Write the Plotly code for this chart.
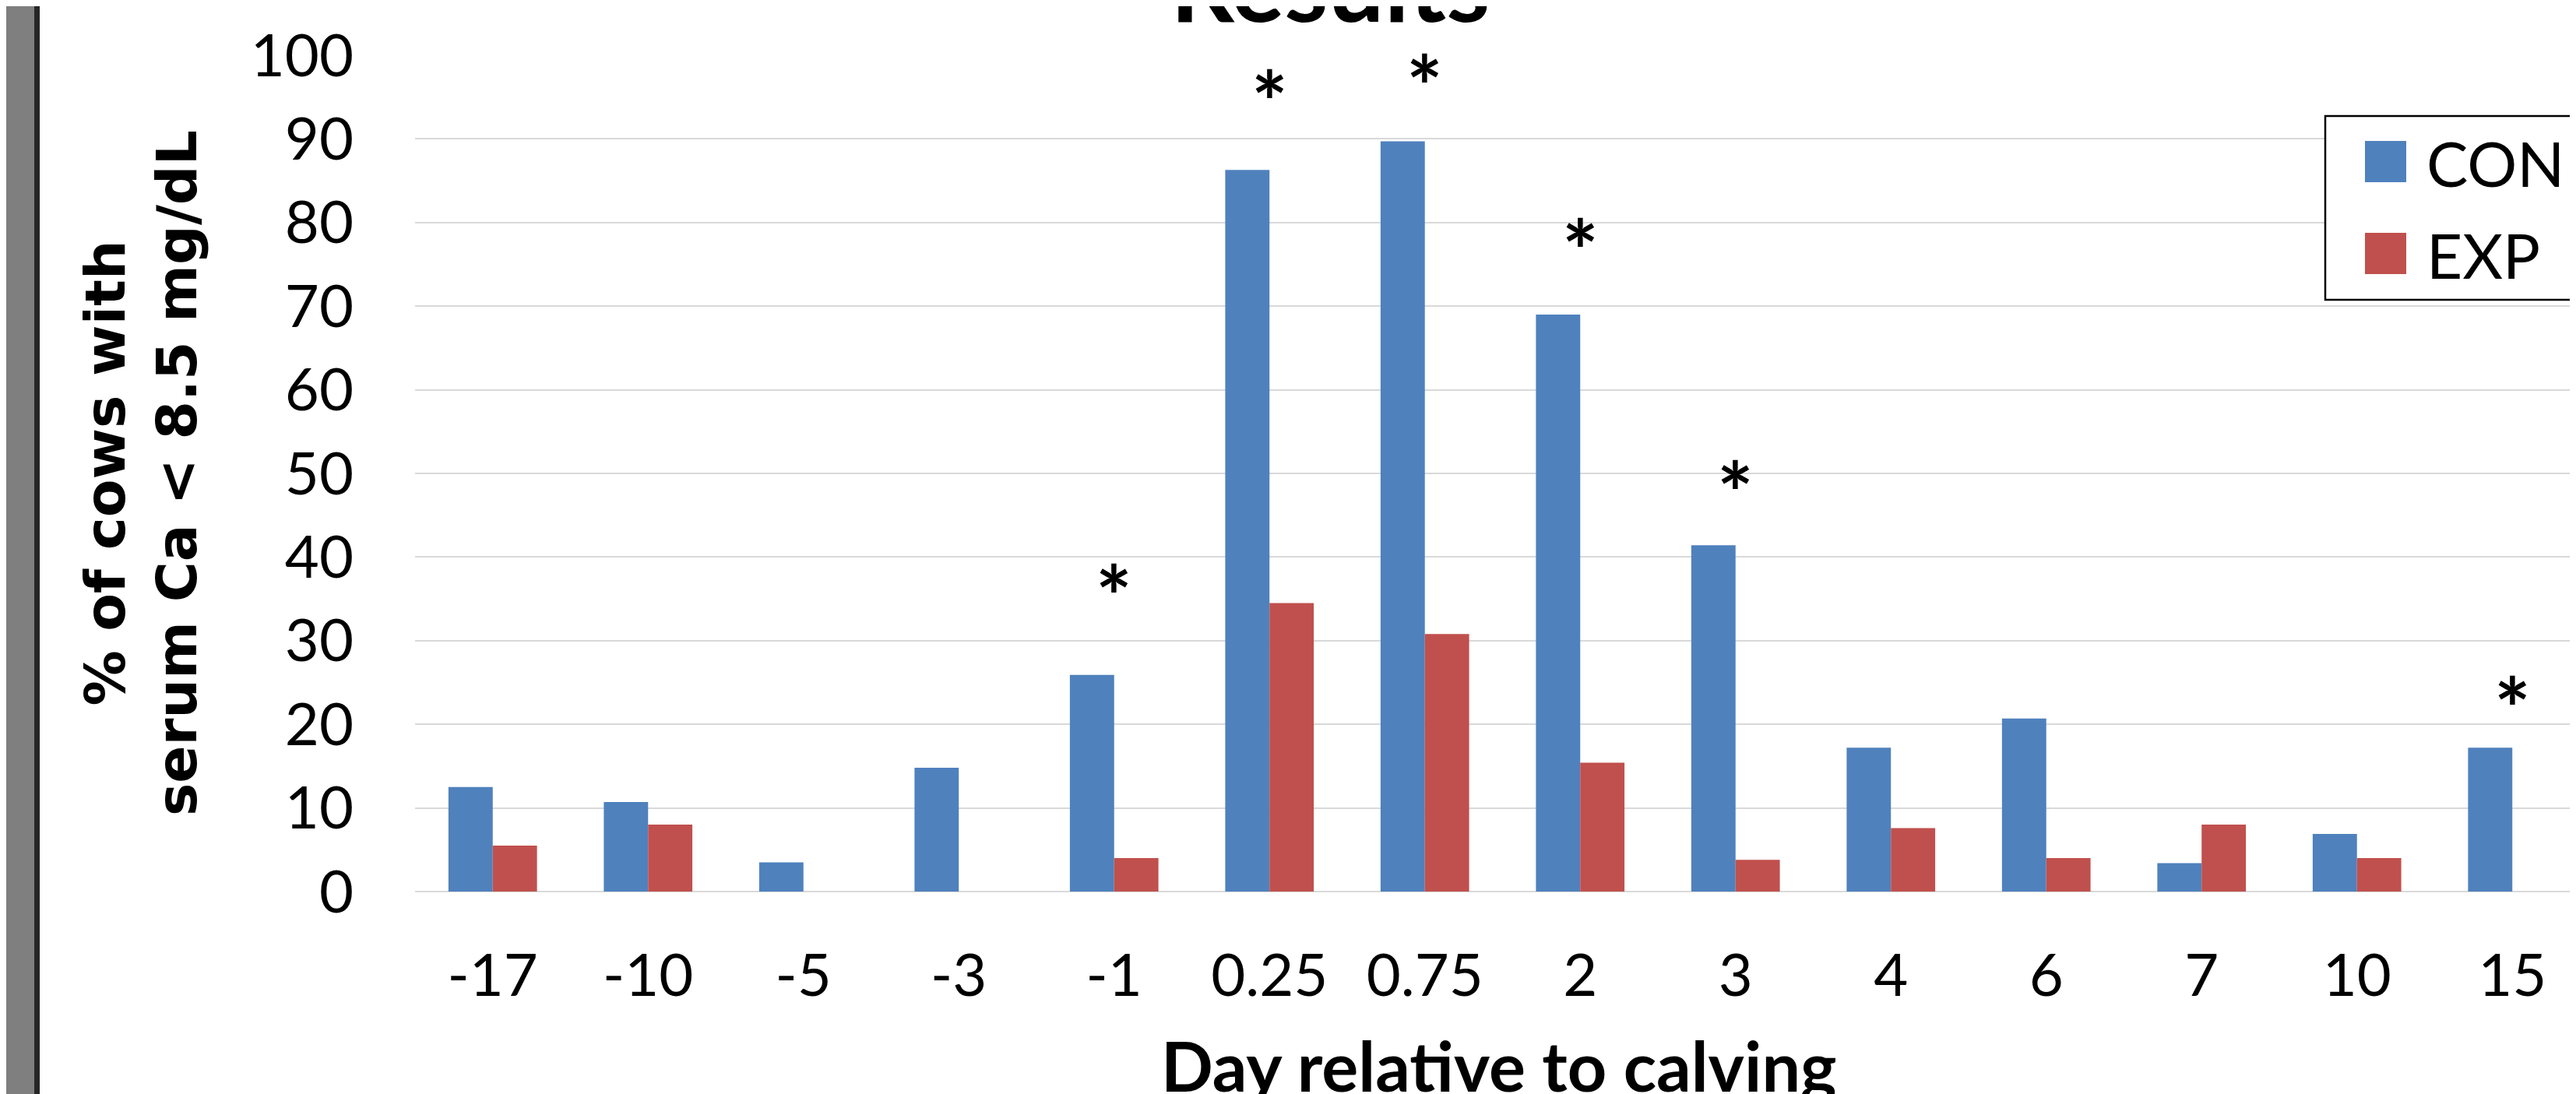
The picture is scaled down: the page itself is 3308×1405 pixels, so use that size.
import plotly.graph_objects as go

# ---- data ----
days = ["-17", "-10", "-5", "-3", "-1", "0.25", "0.75", "2", "3", "4", "6", "7", "10", "15"]
con_pct = [12.5, 10.7, 3.5, 14.8, 25.9, 86.3, 89.7, 69.0, 41.4, 17.2, 20.7, 3.4, 6.9, 17.2]
exp_pct = [5.5, 8.0, 0.0, 0.0, 4.0, 34.5, 30.8, 15.4, 3.8, 7.6, 4.0, 8.0, 4.0, 0.0]
series_names = ["CON", "EXP"]
sig_days = ["-1", "0.25", "0.75", "2", "3", "15"]
sig_star_y = [36.6, 95.7, 97.6, 77.9, 49.0, 23.2]
y_ticks = [0, 10, 20, 30, 40, 50, 60, 70, 80, 90, 100]

BLUE = "#4F81BD"
RED = "#C0504D"
TICK_FONT = "Lato, Carlito, 'Open Sans', sans-serif"

W, H = 3308, 1405
L, R, T, B = 525, 0, 63, 268
PW = W - L - R
PH = H - T - B


def px_x(px):
    return (px - L) / PW


def px_y(py):
    return (H - B - py) / PH


fig = go.Figure()
fig.add_trace(go.Bar(x=days, y=con_pct, name=series_names[0],
                     marker=dict(color=BLUE, line=dict(width=0)), showlegend=False))
fig.add_trace(go.Bar(x=days, y=exp_pct, name=series_names[1],
                     marker=dict(color=RED, line=dict(width=0)), showlegend=False))

annotations = []
for d, sy in zip(sig_days, sig_star_y):
    annotations.append(dict(x=days.index(d), y=sy, xref="x", yref="y", text="<b>*</b>", showarrow=False,
                            yshift=-12, xshift=0,
                            font=dict(family=TICK_FONT, size=110, color="black")))

# title (cut off at the top in the reference)
annotations.append(dict(x=px_x(1700), y=px_y(20 - 0.387 * 128), xref="paper", yref="paper",
                        text="<b>Results</b>", showarrow=False, xanchor="center", yanchor="middle",
                        font=dict(family=TICK_FONT, size=128, color="black")))
# x-axis title
annotations.append(dict(x=0.5, y=px_y(1360), xref="paper", yref="paper",
                        text="<b>Day relative to calving</b>", showarrow=False,
                        xanchor="center", yanchor="middle",
                        font=dict(family=TICK_FONT, size=88, color="black")))
# y-axis title
annotations.append(dict(x=px_x(173), y=px_y(600), xref="paper", yref="paper",
                        text="<b>% of cows with<br>serum Ca < 8.5 mg/dL</b>", showarrow=False,
                        textangle=-90, xanchor="center", yanchor="middle",
                        font=dict(family="'DejaVu Sans', Verdana, sans-serif", size=71, color="black")))

# legend (drawn manually so symbol size matches)
shapes = [
    dict(type="rect", xref="paper", yref="paper", x0=px_x(0), x1=px_x(36), y0=px_y(H + 5), y1=px_y(-5),
         fillcolor="#7f7f7f", line=dict(width=0), layer="above"),
    dict(type="rect", xref="paper", yref="paper", x0=px_x(36), x1=px_x(43), y0=px_y(H + 5), y1=px_y(-5),
         fillcolor="#262626", line=dict(width=0), layer="above"),
    dict(type="rect", xref="paper", yref="paper", x0=px_x(2978), x1=px_x(3330), y0=px_y(377), y1=px_y(141),
         fillcolor="white", line=dict(color="black", width=2.5), layer="above"),
    dict(type="rect", xref="paper", yref="paper", x0=px_x(3029), x1=px_x(3082), y0=px_y(226), y1=px_y(173),
         fillcolor=BLUE, line=dict(width=0), layer="above"),
    dict(type="rect", xref="paper", yref="paper", x0=px_x(3029), x1=px_x(3082), y0=px_y(344), y1=px_y(291),
         fillcolor=RED, line=dict(width=0), layer="above"),
]
for name, cy in zip(series_names, [197.5, 316]):
    annotations.append(dict(x=px_x(3106), y=px_y(cy + 3), xref="paper", yref="paper", text=name,
                            showarrow=False, xanchor="left", yanchor="middle",
                            font=dict(family=TICK_FONT, size=80, color="black")))

fig.update_layout(
    width=W, height=H,
    margin=dict(l=L, r=R, t=T, b=B, pad=0, autoexpand=False),
    paper_bgcolor="white", plot_bgcolor="white",
    barmode="group", bargap=0.43, bargroupgap=0,
    showlegend=False,
    annotations=annotations, shapes=shapes,
    xaxis=dict(type="category", range=[-0.5, 13.45], showgrid=False, showline=False,
               ticks="", ticklabelstandoff=57,
               tickfont=dict(family=TICK_FONT, size=76, color="black")),
    yaxis=dict(range=[0, 100], tickvals=y_ticks, showgrid=True, gridcolor="#d9d9d9", gridwidth=2,
               zeroline=True, zerolinecolor="#d9d9d9", zerolinewidth=2, showline=False,
               ticks="", ticklabelstandoff=78,
               tickfont=dict(family=TICK_FONT, size=76, color="black")),
)

fig.write_html("out.html")
